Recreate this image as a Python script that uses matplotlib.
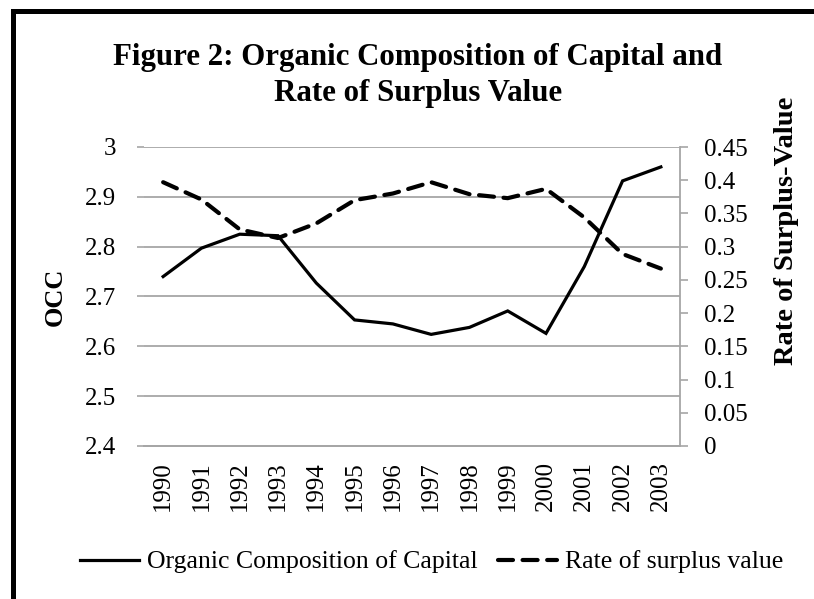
import matplotlib
matplotlib.use("Agg")
from matplotlib import pyplot as plt
from matplotlib.patches import Rectangle

years = ['1990', '1991', '1992', '1993', '1994', '1995', '1996',
         '1997', '1998', '1999', '2000', '2001', '2002', '2003']
occ = [2.74, 2.797, 2.825, 2.822, 2.727, 2.653, 2.645,
       2.624, 2.638, 2.671, 2.626, 2.76, 2.932, 2.96]
surplus = [0.397, 0.371, 0.326, 0.313, 0.335, 0.370, 0.380,
           0.397, 0.379, 0.373, 0.387, 0.344, 0.289, 0.267]

plt.rcParams['font.family'] = ['Liberation Serif', 'DejaVu Serif']
grid_col = '#a6a6a6'
tick_fs = 18

fig = plt.figure(figsize=(8.14, 5.99), dpi=100)
ax = fig.add_axes([144 / 814, 1 - 446 / 599, 536 / 814, 299 / 599])
ax2 = ax.twinx()

x = list(range(len(years)))
l1, = ax.plot(x, occ, color='black', lw=2.3, solid_joinstyle='miter',
              label='Organic Composition of Capital')
l2, = ax2.plot(x, surplus, color='black', lw=3.0, dashes=(3.6, 2.3),
               dash_capstyle='round', label='Rate of surplus value')

ax.set_xlim(-0.5, len(years) - 0.5)
ax.set_ylim(2.4, 3.0)
ax.set_yticks([2.4, 2.5, 2.6, 2.7, 2.8, 2.9, 3.0])
ax.set_yticklabels(['2.4', '2.5', '2.6', '2.7', '2.8', '2.9', '3'])
ax2.set_ylim(0, 0.45)
ax2.set_yticks([0, 0.05, 0.1, 0.15, 0.2, 0.25, 0.3, 0.35, 0.4, 0.45])
ax2.set_yticklabels(['0', '0.05', '0.1', '0.15', '0.2', '0.25', '0.3',
                     '0.35', '0.4', '0.45'])

ax.set_xticks(x)
ax.set_xticklabels(years, rotation=90)
ax.tick_params(axis='x', length=0, pad=11, labelsize=tick_fs)
ax.tick_params(axis='y', length=5, width=1.2, color=grid_col, pad=15,
               labelsize=tick_fs)
ax2.tick_params(axis='y', length=6, width=1.2, color=grid_col, pad=11,
                labelsize=tick_fs)

ax.yaxis.grid(True, color=grid_col, lw=1.3)
ax.set_axisbelow(True)
for a in (ax, ax2):
    for s in ('top', 'left', 'right'):
        a.spines[s].set_visible(False)
    a.spines['bottom'].set_color(grid_col)
    a.spines['bottom'].set_linewidth(1.3)
ax2.spines['right'].set_visible(True)
ax2.spines['right'].set_color(grid_col)
ax2.spines['right'].set_linewidth(1.3)

ax.set_ylabel('OCC', fontsize=19, fontweight='bold')
ax.yaxis.set_label_coords(-0.144, 0.50)
ax2.set_ylabel('Rate of Surplus-Value', fontsize=20.5, fontweight='bold')
ax2.yaxis.set_label_coords(1.175, 0.72)

fig.text(0.513, 1 - 58 / 599, 'Figure 2: Organic Composition of Capital and',
         ha='center', va='center', fontsize=22.2, fontweight='bold')
fig.text(0.513, 1 - 94 / 599, 'Rate of Surplus Value',
         ha='center', va='center', fontsize=22.2, fontweight='bold')

fig.legend(handles=[l1, l2], loc='center', bbox_to_anchor=(0.53, 1 - 562 / 599),
           ncol=2, frameon=False, fontsize=18.5, handlelength=2.3,
           handletextpad=0.3, columnspacing=0.8)

# outer chart border (only top and left edges fall inside the image)
fig.patches.append(Rectangle((12.5 / 814, -0.1), 1.2, 1 - 10.5 / 599 + 0.1,
                             transform=fig.transFigure, fill=False,
                             edgecolor='black', lw=3.6))

fig.savefig('out.png', dpi=100)
